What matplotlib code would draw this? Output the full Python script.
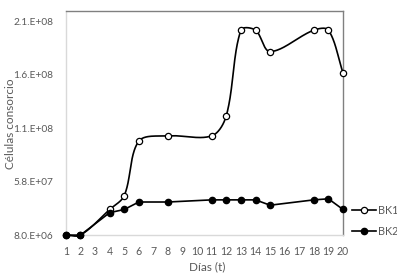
import numpy as np
import matplotlib
matplotlib.use("Agg")
import matplotlib.pyplot as plt
from matplotlib.ticker import FixedLocator, FuncFormatter

plt.rcParams['font.family'] = ['Lato', 'DejaVu Sans']

# datos
dias = [1, 2, 4, 5, 6, 8, 11, 12, 13, 14, 15, 18, 19, 20]
bk1 = [8.0e6, 8.0e6, 3.2e7, 4.5e7, 9.6e7, 1.01e8, 1.01e8, 1.2e8, 2.0e8, 2.0e8, 1.8e8, 2.0e8, 2.0e8, 1.6e8]
bk2 = [8.0e6, 8.0e6, 2.9e7, 3.2e7, 3.9e7, 3.9e7, 4.1e7, 4.1e7, 4.1e7, 4.1e7, 3.6e7, 4.1e7, 4.2e7, 3.2e7]
y_ticks = [8.0e6, 5.8e7, 1.08e8, 1.58e8, 2.08e8]
x_ticks = list(range(1, 21))

gris = '#595959'


def suavizar(x, y, sx, sy, n=40):
    # curva suavizada tipo Excel: Bezier, tangente P(i+1)-P(i-1),
    # repartida según la longitud de cada tramo en pantalla
    x = np.asarray(x, float) * sx
    y = np.asarray(y, float) * sy
    P = np.column_stack([x, y])
    m = len(P)
    cin = P.copy()
    cout = P.copy()
    for i in range(m):
        a = P[max(i - 1, 0)]
        b = P[min(i + 1, m - 1)]
        d1 = np.hypot(*(P[i] - a))
        d2 = np.hypot(*(b - P[i]))
        if d1 + d2 == 0:
            continue
        T = b - a
        cout[i] = P[i] + T * d2 / (d1 + d2) / 3
        cin[i] = P[i] - T * d1 / (d1 + d2) / 3
    out = []
    t = np.linspace(0, 1, n)[:, None]
    for i in range(m - 1):
        seg = ((1 - t) ** 3 * P[i] + 3 * (1 - t) ** 2 * t * cout[i]
               + 3 * (1 - t) * t ** 2 * cin[i + 1] + t ** 3 * P[i + 1])
        out.append(seg)
    out = np.vstack(out)
    return out[:, 0] / sx, out[:, 1] / sy


fig = plt.figure(figsize=(3.97, 2.74), dpi=100)
ax = fig.add_axes([0.166, 0.142, 0.698, 0.818])

# escala aproximada en píxeles: 14.5 px por día, 1.07 px por millón
cx, cy = suavizar(dias, bk1, 14.5, 1.07e-6)
ax.plot(cx, cy, color='black', lw=1.2, clip_on=False, zorder=3)
ax.plot(dias, bk1, ls='none', marker='o', ms=4.5, mfc='white', mec='black',
        mew=0.9, clip_on=False, zorder=4)
l1, = ax.plot([], [], color='black', lw=1.2, marker='o', ms=4.5, mfc='white',
              mec='black', mew=0.9)

l2, = ax.plot(dias, bk2, color='black', lw=1.2, marker='o', ms=4.5, mfc='black',
              mec='black', clip_on=False, zorder=5)

ax.set_xlim(1, 20)
ax.set_ylim(8.0e6, 2.18e8)
ax.xaxis.set_major_locator(FixedLocator(x_ticks))
ax.yaxis.set_major_locator(FixedLocator(y_ticks))


def fmt(v, pos):
    s = '%.1E' % v
    mant, exp = s.split('E')
    return '%s.E%s' % (mant, exp)


ax.yaxis.set_major_formatter(FuncFormatter(fmt))
ax.tick_params(axis='y', length=0, labelsize=7.3, colors=gris, pad=9)
ax.tick_params(axis='x', length=0, labelsize=7.6, colors=gris, pad=8)

for s in ['left', 'bottom']:
    ax.spines[s].set_color('#d9d9d9')
    ax.spines[s].set_linewidth(1)
for s in ['top', 'right']:
    ax.spines[s].set_color('#808080')
    ax.spines[s].set_linewidth(1)

ax.set_xlabel('Días (t)', fontsize=8.5, color=gris)
ax.set_ylabel('Células consorcio', fontsize=8.5, color=gris)
ax.xaxis.set_label_coords(0.509, -0.142)
ax.yaxis.set_label_coords(-0.2, 0.495)
ax.xaxis.label.set_va('center')
ax.yaxis.label.set_va('center')

ax.legend([l1, l2], ['BK1', 'BK2'], loc='center left',
          bbox_to_anchor=(1.012, 0.063), frameon=False, fontsize=7.8,
          labelcolor=gris, handlelength=2.2, handletextpad=0.2,
          labelspacing=0.95, borderpad=0)

fig.savefig('out.png', dpi=100)
